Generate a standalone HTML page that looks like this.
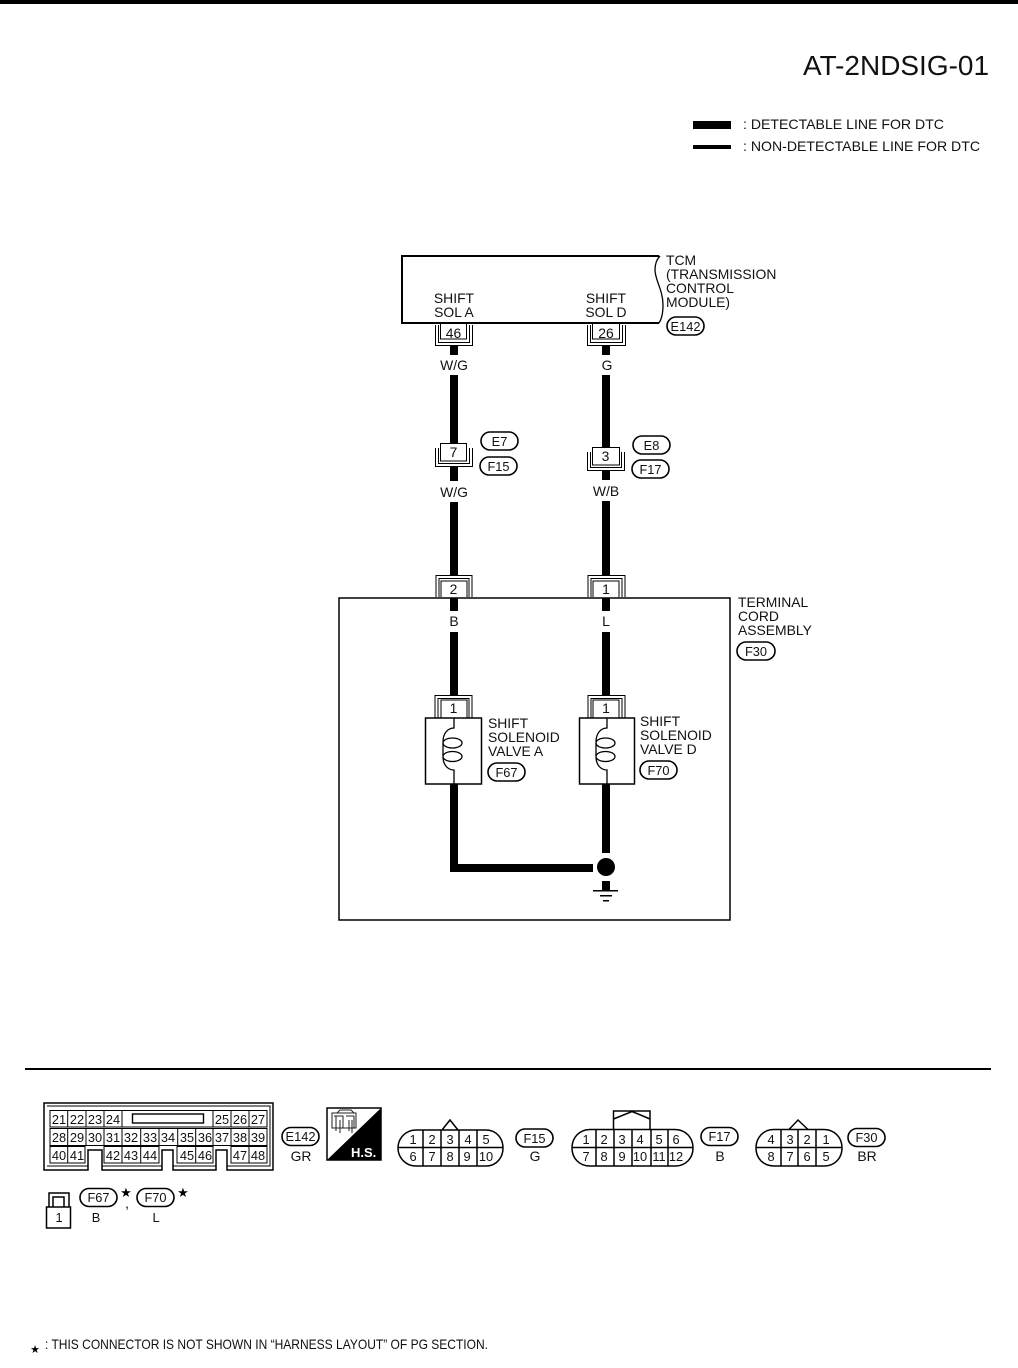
<!DOCTYPE html>
<html><head><meta charset="utf-8"><style>
html,body{margin:0;padding:0;background:#fff}
svg{display:block}
text{font-family:"Liberation Sans",sans-serif;font-size:13.9px;fill:#111}
.m{text-anchor:middle}
.s{font-size:12.8px}
.l{fill:none;stroke:#000;stroke-width:1.5}
.t{fill:none;stroke:#000;stroke-width:1}
.p{fill:#fff;stroke:#000;stroke-width:1.6}
.w{fill:#000}
</style></head><body>
<svg width="1018" height="1368" viewBox="0 0 1018 1368" xmlns="http://www.w3.org/2000/svg">
<rect x="0" y="0" width="1018" height="4" fill="#000"/>
<text x="803" y="75" style="font-size:27.5px" textLength="186" lengthAdjust="spacingAndGlyphs">AT-2NDSIG-01</text>
<rect x="693" y="121" width="38" height="8" fill="#000"/>
<rect x="693" y="145" width="38" height="4" fill="#000"/>
<text x="743" y="129" textLength="201" lengthAdjust="spacingAndGlyphs">: DETECTABLE LINE FOR DTC</text>
<text x="743" y="151" textLength="237" lengthAdjust="spacingAndGlyphs">: NON-DETECTABLE LINE FOR DTC</text>

<!-- TCM -->
<path class="l" style="stroke-width:2" d="M659 323H402V256H659"/>
<path class="t" style="stroke-width:1.3" d="M660 256C658 258 655 262 655 270C655 280 663 290 663 305C663 315 661 320 659 323"/>
<text x="666" y="265">TCM</text>
<text x="666" y="279">(TRANSMISSION</text>
<text x="666" y="293">CONTROL</text>
<text x="666" y="307">MODULE)</text>
<text class="m" x="454" y="303">SHIFT</text>
<text class="m" x="454" y="317">SOL A</text>
<text class="m" x="606" y="303">SHIFT</text>
<text class="m" x="606" y="317">SOL D</text>
<rect class="p" x="667" y="317" width="37" height="18" rx="9"/>
<text class="m s" x="685.500" y="331">E142</text>

<!-- wires -->
<g class="w">
<rect x="450" y="346" width="8" height="9"/>
<rect x="450" y="375" width="8" height="68"/>
<rect x="450" y="467" width="8" height="14"/>
<rect x="450" y="502" width="8" height="73"/>
<rect x="450" y="598" width="8" height="13"/>
<rect x="450" y="632" width="8" height="63"/>
<rect x="450" y="784" width="8" height="88"/>
<rect x="450" y="864" width="143" height="8"/>
<rect x="602" y="346" width="8" height="9"/>
<rect x="602" y="375" width="8" height="72"/>
<rect x="602" y="471" width="8" height="9"/>
<rect x="602" y="501" width="8" height="74"/>
<rect x="602" y="598" width="8" height="13"/>
<rect x="602" y="632" width="8" height="63"/>
<rect x="602" y="784" width="8" height="69"/>
<circle cx="606" cy="867" r="9"/>
<rect x="602" y="881" width="8" height="10"/>
<rect x="593" y="890" width="25" height="1.500"/>
<rect x="600" y="895" width="12" height="1.500"/>
<rect x="603" y="900" width="6" height="1.500"/>
</g>

<!-- connector 46 / 26 -->
<path class="t" d="M435.500 325V345.500H472.500V325M438.500 325V342.500H469.500V325"/>
<path class="t" d="M440.500 323V339H466.500V323"/>
<text class="m" x="453.500" y="338">46</text>
<path class="t" d="M587.500 325V345.500H625.500V325M590.500 325V342.500H622.500V325"/>
<path class="t" d="M592.500 323V339H619.500V323"/>
<text class="m" x="606" y="338">26</text>
<text class="m" x="454" y="370">W/G</text>
<text class="m" x="607" y="370">G</text>

<!-- connector 7 / 3 -->
<path class="t" d="M435.500 448V466.500H472.500V448M438.500 448V463.500H469.500V448"/>
<rect class="t" x="440.500" y="443.500" width="26" height="17.500"/>
<text class="m" x="453.500" y="457">7</text>
<path class="t" d="M587.500 452V470.500H624.500V452M590.500 452V467.500H621.500V452"/>
<rect class="t" x="592.500" y="447.500" width="27" height="17.500"/>
<text class="m" x="605.500" y="461">3</text>
<rect class="p" x="481" y="432" width="37" height="18" rx="9"/>
<text class="m s" x="499.500" y="446">E7</text>
<rect class="p" x="480" y="457" width="37" height="18" rx="9"/>
<text class="m s" x="498.500" y="471">F15</text>
<rect class="p" x="633" y="436" width="37" height="18" rx="9"/>
<text class="m s" x="651.500" y="450">E8</text>
<rect class="p" x="632" y="460" width="37" height="18" rx="9"/>
<text class="m s" x="650.500" y="474">F17</text>
<text class="m" x="454" y="497">W/G</text>
<text class="m" x="606" y="496">W/B</text>

<!-- terminal cord assembly -->
<rect class="l" x="339" y="598" width="391" height="322"/>
<path class="t" d="M436 597V575.500H472V597M439 597V578.500H469V597"/>
<path class="t" d="M441 597V581H467V597"/>
<text class="m" x="453.500" y="594">2</text>
<path class="t" d="M588 597V575.500H625V597M591 597V578.500H622V597"/>
<path class="t" d="M593 597V581H619V597"/>
<text class="m" x="606" y="594">1</text>
<text class="m" x="454" y="626">B</text>
<text class="m" x="606" y="626">L</text>
<text x="738" y="607">TERMINAL</text>
<text x="738" y="621">CORD</text>
<text x="738" y="635">ASSEMBLY</text>
<rect class="p" x="737" y="642" width="38" height="18" rx="9"/>
<text class="m s" x="756" y="656">F30</text>

<!-- solenoids -->
<path class="t" d="M435 718V695.500H472V718M438 718V698.500H469V718"/>
<path class="t" d="M441 718V700H467V718"/>
<text class="m" x="453.500" y="713">1</text>
<path class="t" d="M588 718V695.500H625V718M591 718V698.500H622V718"/>
<path class="t" d="M593 718V700H619V718"/>
<text class="m" x="606" y="713">1</text>
<rect class="l" x="425.500" y="718" width="56" height="66"/>
<rect class="l" x="579.500" y="718" width="55" height="66"/>
<g class="l" style="stroke-width:1.3">
<path d="M454 718V728C448 728 443 733 443 742"/><ellipse cx="452.500" cy="743" rx="9.500" ry="5"/><path d="M443 743C443 748 443 752 443 756"/><ellipse cx="452.500" cy="756.500" rx="9.500" ry="5"/><path d="M443 757C443 765 448 770 454 770V784"/>
<path d="M607 718V728C601 728 596 733 596 742"/><ellipse cx="605.500" cy="743" rx="9.500" ry="5"/><path d="M596 743C596 748 596 752 596 756"/><ellipse cx="605.500" cy="756.500" rx="9.500" ry="5"/><path d="M596 757C596 765 601 770 607 770V784"/>
</g>
<text x="488" y="728">SHIFT</text>
<text x="488" y="742">SOLENOID</text>
<text x="488" y="756">VALVE A</text>
<rect class="p" x="488" y="763" width="37" height="18" rx="9"/>
<text class="m s" x="506.500" y="777">F67</text>
<text x="640" y="726">SHIFT</text>
<text x="640" y="740">SOLENOID</text>
<text x="640" y="754">VALVE D</text>
<rect class="p" x="640" y="761" width="37" height="18" rx="9"/>
<text class="m s" x="658.500" y="775">F70</text>

<rect x="25" y="1068" width="966" height="2" fill="#000"/>

<!-- E142 grid -->
<path class="l" style="stroke-width:1.500" d="M44 1103H273V1170H227V1150H216V1170H173V1150H162V1170H102V1150H88V1170H44Z"/>
<path class="t" d="M47 1106H270V1166H227M216 1166H173M162 1166H102M88 1166H47Z"/>
<g class="t">
<path d="M50 1110.500H122V1127H50ZM67.700 1110.500V1127M86 1110.500V1127M104 1110.500V1127"/>
<path d="M122 1110.500H213V1127H122Z"/>
<rect x="132.500" y="1114" width="71" height="9" style="stroke-width:1.400"/>
<path d="M213 1110.500H267V1127H213ZM231 1110.500V1127M249 1110.500V1127"/>
<path d="M50 1128.500H267V1145.500H50ZM67.700 1128.500V1145.500M86 1128.500V1145.500M104 1128.500V1145.500M122 1128.500V1145.500M140.700 1128.500V1145.500M159 1128.500V1145.500M177.700 1128.500V1145.500M195.700 1128.500V1145.500M213 1128.500V1145.500M231 1128.500V1145.500M249 1128.500V1145.500"/>
<path d="M50 1146.500H85V1163H50ZM67.700 1146.500V1163"/>
<path d="M104 1146.500H159V1163H104ZM122 1146.500V1163M140.700 1146.500V1163"/>
<path d="M177 1146.500H213V1163H177ZM195.700 1146.500V1163"/>
<path d="M231 1146.500H267V1163H231ZM249 1146.500V1163"/>
</g>
<g>
<text class="m s" x="59" y="1124">21</text><text class="m s" x="77" y="1124">22</text><text class="m s" x="95" y="1124">23</text><text class="m s" x="113" y="1124">24</text><text class="m s" x="222" y="1124">25</text><text class="m s" x="240" y="1124">26</text><text class="m s" x="258" y="1124">27</text>
<text class="m s" x="59" y="1142">28</text><text class="m s" x="77" y="1142">29</text><text class="m s" x="95" y="1142">30</text><text class="m s" x="113" y="1142">31</text><text class="m s" x="131" y="1142">32</text><text class="m s" x="150" y="1142">33</text><text class="m s" x="168" y="1142">34</text><text class="m s" x="187" y="1142">35</text><text class="m s" x="205" y="1142">36</text><text class="m s" x="222" y="1142">37</text><text class="m s" x="240" y="1142">38</text><text class="m s" x="258" y="1142">39</text>
<text class="m s" x="59" y="1160">40</text><text class="m s" x="77" y="1160">41</text><text class="m s" x="113" y="1160">42</text><text class="m s" x="131" y="1160">43</text><text class="m s" x="150" y="1160">44</text><text class="m s" x="187" y="1160">45</text><text class="m s" x="205" y="1160">46</text><text class="m s" x="240" y="1160">47</text><text class="m s" x="258" y="1160">48</text>
</g>
<rect class="p" x="282" y="1127.500" width="37" height="18" rx="9"/>
<text class="m s" x="300.500" y="1141">E142</text>
<text class="m" x="301" y="1161">GR</text>

<!-- H.S. -->
<rect x="327" y="1108" width="54" height="52" fill="#fff" stroke="#000" stroke-width="1.500"/>
<path d="M381 1108V1160H327Z" fill="#000"/>
<path d="M332 1113H356V1128H332ZM334 1116H343V1128M346 1116H354V1128M336 1116V1131M340 1120V1133M349 1120V1131M352 1120V1133M337 1113L340 1110H351L354 1113" fill="none" stroke="#222" stroke-width="1"/>
<text x="351" y="1157" style="font-size:13px;font-weight:bold;fill:#fff">H.S.</text>

<!-- F15 connector -->
<path class="l" d="M416 1130H486C497 1130 503 1139 503 1148C503 1157 497 1166 486 1166H416C405 1166 398 1157 398 1148C398 1139 405 1130 416 1130ZM398 1147.500H503M423 1130V1166M441 1130V1166M459 1130V1166M477 1130V1166M442 1130L450 1120L458 1130"/>
<text class="m s" x="413" y="1144">1</text><text class="m s" x="432" y="1144">2</text><text class="m s" x="450" y="1144">3</text><text class="m s" x="468" y="1144">4</text><text class="m s" x="486" y="1144">5</text>
<text class="m s" x="413" y="1161">6</text><text class="m s" x="432" y="1161">7</text><text class="m s" x="450" y="1161">8</text><text class="m s" x="467" y="1161">9</text><text class="m s" x="486" y="1161">10</text>
<rect class="p" x="516" y="1129" width="37" height="18" rx="9"/>
<text class="m s" x="534.500" y="1143">F15</text>
<text class="m" x="535" y="1161">G</text>

<!-- F17 connector -->
<path class="l" d="M590 1129.500H675C686 1129.500 693 1138 693 1148C693 1158 686 1166 675 1166H590C579 1166 572 1158 572 1148C572 1138 579 1129.500 590 1129.500ZM572 1147.500H693M596 1129.500V1166M614 1129.500V1166M632 1129.500V1166M651 1129.500V1166M668 1129.500V1166M613.500 1129.500V1111H650V1129.500M613.500 1119L632 1111.500L650 1119"/>
<text class="m s" x="586" y="1144">1</text><text class="m s" x="604" y="1144">2</text><text class="m s" x="622" y="1144">3</text><text class="m s" x="640" y="1144">4</text><text class="m s" x="659" y="1144">5</text><text class="m s" x="676" y="1144">6</text>
<text class="m s" x="586" y="1161">7</text><text class="m s" x="604" y="1161">8</text><text class="m s" x="622" y="1161">9</text><text class="m s" x="640" y="1161">10</text><text class="m s" x="659" y="1161">11</text><text class="m s" x="676" y="1161">12</text>
<rect class="p" x="701" y="1127.500" width="37" height="18" rx="9"/>
<text class="m s" x="719.500" y="1141">F17</text>
<text class="m" x="720" y="1161">B</text>

<!-- F30 connector -->
<path class="l" d="M774 1129.500H824C835 1129.500 842 1138 842 1148C842 1158 835 1166 824 1166H774C763 1166 756 1158 756 1148C756 1138 763 1129.500 774 1129.500ZM756 1147.500H842M781 1129.500V1166M798 1129.500V1166M816 1129.500V1166M789 1129.500L798 1120L808 1129.500"/>
<text class="m s" x="771" y="1144">4</text><text class="m s" x="790" y="1144">3</text><text class="m s" x="807" y="1144">2</text><text class="m s" x="826" y="1144">1</text>
<text class="m s" x="771" y="1161">8</text><text class="m s" x="790" y="1161">7</text><text class="m s" x="807" y="1161">6</text><text class="m s" x="826" y="1161">5</text>
<rect class="p" x="848" y="1128.500" width="37" height="18" rx="9"/>
<text class="m s" x="866.500" y="1142">F30</text>
<text class="m" x="867" y="1161">BR</text>

<!-- small connector -->
<path class="l" d="M49 1207V1193H69V1207M53 1207V1197H64V1207"/>
<rect class="l" x="46.500" y="1207" width="24" height="21"/>
<text class="m s" x="59" y="1222">1</text>
<rect class="p" x="80" y="1188.500" width="37" height="18" rx="9"/>
<text class="m s" x="98.500" y="1202">F67</text>
<rect class="p" x="137" y="1188.500" width="37" height="18" rx="9"/>
<text class="m s" x="155.500" y="1202">F70</text>
<text class="m" x="126" y="1197" style="font-size:13px;fill:#000">★</text>
<text class="m" x="183" y="1197" style="font-size:13px;fill:#000">★</text>
<text class="m" x="127" y="1208">,</text>
<text class="m s" x="96" y="1222">B</text>
<text class="m s" x="156" y="1222">L</text>

<!-- footnote -->
<text class="m" x="35" y="1353" style="font-size:11px;fill:#000">★</text>
<text x="45" y="1349" textLength="443" lengthAdjust="spacingAndGlyphs">: THIS CONNECTOR IS NOT SHOWN IN “HARNESS LAYOUT” OF PG SECTION.</text>
</svg>
</body></html>
